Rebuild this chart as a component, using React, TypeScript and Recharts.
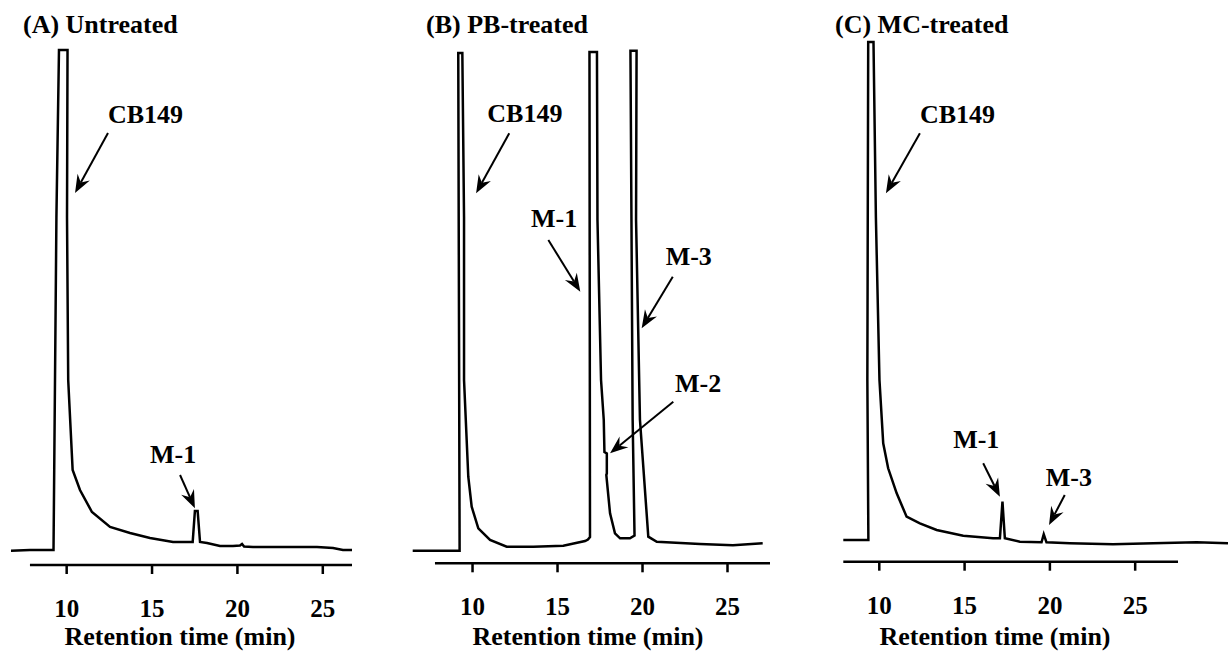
import React from "react"
import { LineChart, Line, XAxis, YAxis, ReferenceLine, ReferenceDot } from "recharts"

// retention time (min) / detector response (% of full scale, peaks clipped at 100)
const untreatedTime = [6.74, 7.85, 9.23, 9.4, 9.55, 10.05, 10.02, 10.09, 10.35, 10.78, 11.48, 12.54, 13.71, 14.88, 16.23, 17.38, 17.51, 17.67, 17.81, 18.22, 18.98, 19.74, 20.15, 20.27, 20.39, 20.91, 24.66, 25.6, 26.18, 26.71]
const untreatedSignal = [2.78, 2.91, 2.91, 67.57, 100, 100, 67.57, 35.92, 18.45, 14.56, 10.29, 7.38, 6.21, 5.24, 4.47, 4.47, 10.49, 10.49, 4.47, 4.27, 3.69, 3.69, 3.79, 4.08, 3.59, 3.5, 3.5, 3.3, 2.91, 2.91]

const pbTime = [6.48, 9.24, 9.16, 9.4, 9.5, 9.5, 9.75, 9.95, 10.34, 11.03, 12.01, 13.58, 15.34, 16.62, 16.79, 16.91, 16.88, 17.32, 17.35, 17.56, 17.72, 17.76, 17.9, 17.9, 17.87, 18.09, 18.38, 18.68, 19.26, 19.53, 19.42, 19.29, 19.65, 19.62, 19.85, 20.34, 20.84, 23.38, 25.32, 27.07]
const pbSignal = [2.46, 2.46, 99.55, 99.55, 67.56, 35.76, 16.89, 11.04, 6.83, 4.55, 3.24, 3.24, 3.43, 4.35, 4.64, 5.13, 99.75, 99.75, 66.97, 35.76, 27.96, 21.71, 21.42, 17.52, 17.23, 9.75, 5.85, 4.88, 4.88, 5.42, 27.96, 100, 100, 66.97, 27.96, 5.19, 4.21, 3.77, 3.51, 3.9]

const mcTime = [7.89, 9.36, 9.3, 9.35, 9.66, 9.8, 10.01, 10.23, 10.52, 11.02, 11.6, 12.38, 13.36, 14.92, 16.67, 17.07, 17.22, 17.36, 18.24, 19.51, 19.64, 19.8, 21.17, 23.7, 26.05, 28.59, 30.44]
const mcSignal = [4.17, 4.17, 34.88, 99.75, 99.75, 66.16, 34.88, 22.73, 17.93, 13.13, 8.64, 7.37, 6.08, 4.99, 4.49, 4.49, 11.52, 4.49, 3.84, 3.72, 5.26, 3.72, 3.53, 3.34, 3.53, 3.72, 3.53]

const timeTicks = [10, 15, 20, 25]
const panelTitles = ["(A) Untreated", "(B) PB-treated", "(C) MC-treated"]
const axisTitle = "Retention time (min)"

// peak labels: text anchor, arrow tail, arrow tip (time, response)
const untreatedNotes = [
  { text: "CB149", at: [12.42, 85.83], from: [12.42, 83.88], to: [10.49, 72.23] },
  { text: "M-1", at: [14.88, 19.81], from: [16.64, 17.48], to: [17.51, 11.01] },
]
const pbNotes = [
  { text: "CB149", at: [10.87, 86.15], from: [12.16, 83.89], to: [10.21, 72.18] },
  { text: "M-1", at: [13.44, 65.61], from: [14.46, 63.07], to: [16.34, 52.99] },
  { text: "M-3", at: [21.36, 58.19], from: [21.78, 55.91], to: [19.95, 45.85] },
  { text: "M-2", at: [21.91, 33.48], from: [21.81, 31.53], to: [18.09, 21.46] },
]
const mcNotes = [
  { text: "CB149", at: [12.38, 84.2], from: [12.38, 82.23], to: [10.39, 70.71] },
  { text: "M-1", at: [14.33, 21.77], from: [16.09, 18.89], to: [17.07, 12.48] },
  { text: "M-3", at: [19.76, 14.53], from: [20.87, 12.8], to: [19.95, 7.04] },
]

const FONT = "'Liberation Serif', 'Times New Roman', serif"

const toRows = (t: number[], s: number[]) => t.map((v, i) => ({ t: v, s: s[i] }))

const panels = [
  {
    rows: toRows(untreatedTime, untreatedSignal), notes: untreatedNotes,
    left: 0, width: 410, margin: { top: 50, right: 58, bottom: 27, left: 11 },
    domain: [6.74, 26.71], axisFrom: 7.85, axisTo: 26.71,
  },
  {
    rows: toRows(pbTime, pbSignal), notes: pbNotes,
    left: 400, width: 410, margin: { top: 50.7, right: 40, bottom: 28.7, left: 12.7 },
    domain: [6.48, 27.5], axisFrom: 7.79, axisTo: 27.5,
  },
  {
    rows: toRows(mcTime, mcSignal), notes: mcNotes,
    left: 820, width: 409, margin: { top: 40.7, right: 0.5, bottom: 30.3, left: 23.3 },
    domain: [7.89, 30.47], axisFrom: 7.89, axisTo: 27.51,
  },
]

const titlePos = [[23, 33], [426, 33], [835, 33]]
const axisTitlePos = [180, 588, 995]

// tick mark hanging under the axis line, label well underneath
const TimeTick = (p: any) => (
  <g>
    <rect x={p.x - 1.25} y={p.y} width={2.5} height={9} fill="#000" />
    <text x={p.x} y={p.y + 52} textAnchor="middle" fontSize={25} fontWeight="bold" fontFamily={FONT} fill="#000">
      {p.payload.value}
    </text>
  </g>
)

const Arrow = (p: any) => {
  const { x1, y1, x2, y2 } = p
  const a = Math.atan2(y2 - y1, x2 - x1)
  const c = Math.cos(a), s = Math.sin(a)
  const L = 18, W = 7, N = 12
  const bx = x2 - L * c, by = y2 - L * s
  const pts = [
    [x2, y2],
    [bx - W * s, by + W * c],
    [x2 - N * c, y2 - N * s],
    [bx + W * s, by - W * c],
  ]
  return (
    <g>
      <line x1={x1} y1={y1} x2={x2 - N * c} y2={y2 - N * s} stroke="#000" strokeWidth={2} />
      <polygon points={pts.map((q) => q.join(",")).join(" ")} fill="#000" />
    </g>
  )
}

const Panel = ({ cfg }: { cfg: (typeof panels)[number] }) => (
  <div style={{ position: "absolute", left: cfg.left, top: 0 }}>
    <LineChart width={cfg.width} height={652} data={cfg.rows} margin={cfg.margin}>
      <XAxis
        dataKey="t"
        type="number"
        domain={cfg.domain}
        ticks={timeTicks}
        axisLine={false}
        tickLine={false}
        tickSize={0}
        tickMargin={0}
        height={60}
        tick={TimeTick}
      />
      <YAxis hide type="number" domain={[0, 100]} />
      <ReferenceLine
        segment={[{ x: cfg.axisFrom, y: 0 }, { x: cfg.axisTo, y: 0 }]}
        stroke="#000"
        strokeWidth={2.5}
        ifOverflow="visible"
      />
      <Line
        type="linear"
        dataKey="s"
        stroke="#000"
        strokeWidth={2.5}
        dot={false}
        activeDot={false}
        isAnimationActive={false}
      />
      {cfg.notes.map((n) => (
        <ReferenceLine
          key={n.text + "-arrow"}
          segment={[{ x: n.from[0], y: n.from[1] }, { x: n.to[0], y: n.to[1] }]}
          ifOverflow="visible"
          shape={Arrow}
        />
      ))}
      {cfg.notes.map((n) => (
        <ReferenceDot
          key={n.text + "-label"}
          x={n.at[0]}
          y={n.at[1]}
          r={0}
          ifOverflow="visible"
          shape={(p: any) => (
            <text x={p.cx} y={p.cy} fontSize={26} fontWeight="bold" fontFamily={FONT} fill="#000">
              {n.text}
            </text>
          )}
        />
      ))}
    </LineChart>
  </div>
)

export default function App() {
  return (
    <div style={{ position: "fixed", left: 0, top: 0, width: 1229, height: 652, background: "#fff", overflow: "hidden" }}>
      {panels.map((cfg, i) => (
        <Panel key={i} cfg={cfg} />
      ))}
      <svg width={1229} height={652} style={{ position: "absolute", left: 0, top: 0, pointerEvents: "none" }}>
        {panelTitles.map((t, i) => (
          <text key={t} x={titlePos[i][0]} y={titlePos[i][1]} fontSize={26} fontWeight="bold" fontFamily={FONT}>
            {t}
          </text>
        ))}
        {axisTitlePos.map((x, i) => (
          <text key={i} x={x} y={645} textAnchor="middle" fontSize={26} fontWeight="bold" fontFamily={FONT}>
            {axisTitle}
          </text>
        ))}
      </svg>
    </div>
  )
}
